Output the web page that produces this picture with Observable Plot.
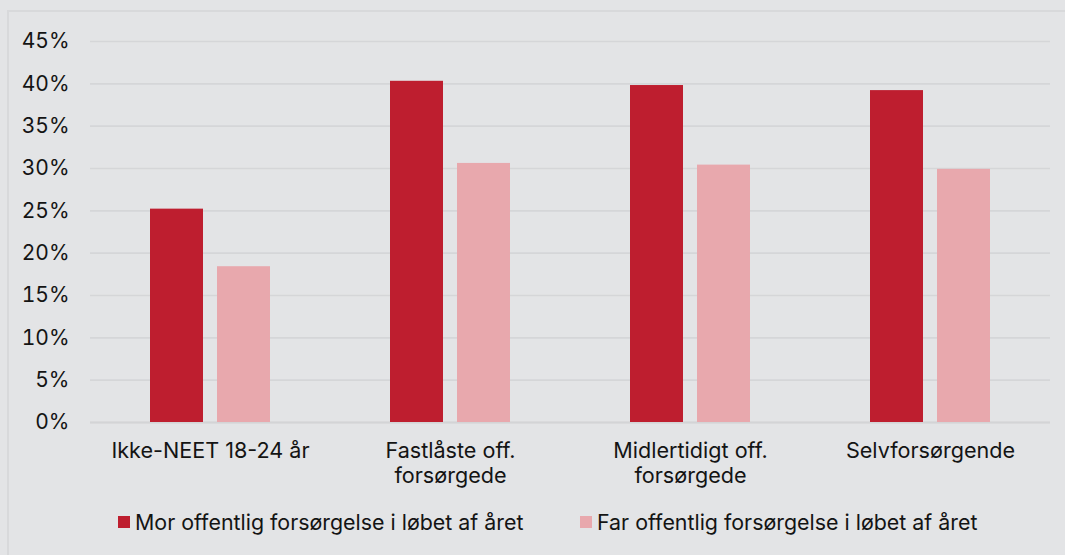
<!DOCTYPE html>
<html>
<head>
<meta charset="utf-8">
<script src="https://cdn.jsdelivr.net/npm/d3@7"></script>
<script src="https://cdn.jsdelivr.net/npm/@observablehq/plot@0.6"></script>
<style>
  html, body { margin: 0; padding: 0; }
  body { width: 1065px; height: 555px; background: #e3e4e6; position: relative; overflow: hidden; font-family: Inter, "Noto Sans", sans-serif; }
  #frame { position: absolute; left: 7px; top: 10px; width: 1200px; height: 700px; border-top: 2px solid #d8d9db; border-left: 2px solid #d8d9db; }
  #chart { position: absolute; left: 0; top: 0; }
  #legend { position: absolute; top: 509px; left: 0; width: 1065px; font-size: 21.4px; color: #141414; }
  .item { position: absolute; top: 0; display: flex; align-items: center; white-space: nowrap; }
  .sw { width: 12px; height: 12px; margin-right: 5px; display: inline-block; }
</style>
</head>
<body>
<div id="frame"></div>
<div id="chart"></div>
<div id="legend"></div>
<script>
const categories = ["Ikke-NEET 18-24 år", "Fastlåste off. forsørgede", "Midlertidigt off. forsørgede", "Selvforsørgende"];
const categoryLabels = ["Ikke-NEET 18-24 år", "Fastlåste off.\nforsørgede", "Midlertidigt off.\nforsørgede", "Selvforsørgende"];
const seriesNames = ["Mor offentlig forsørgelse i løbet af året", "Far offentlig forsørgelse i løbet af året"];
const morValues = [25.2, 40.3, 39.8, 39.2];
const farValues = [18.4, 30.6, 30.4, 29.9];
const seriesColors = ["#be1e2f", "#e8a8ad"];
const yTicks = [0, 5, 10, 15, 20, 25, 30, 35, 40, 45];

const data = [];
categories.forEach((c, i) => {
  data.push({cat: c, series: seriesNames[0], value: morValues[i]});
  data.push({cat: c, series: seriesNames[1], value: farValues[i]});
});
const labelOf = new Map(categories.map((c, i) => [c, categoryLabels[i]]));

const chart = Plot.plot({
  width: 1065,
  height: 495,
  marginTop: 41,
  marginBottom: 73,
  marginLeft: 89,
  marginRight: 14,
  style: {fontFamily: "Inter, 'Noto Sans', sans-serif", fontSize: "21px", color: "#141414", background: "transparent"},
  fx: {domain: categories, padding: 0, paddingOuter: 0, label: null},
  x: {domain: seriesNames, paddingInner: 0.206, paddingOuter: 0.871, axis: null},
  y: {domain: [0, 45], label: null},
  color: {domain: seriesNames, range: seriesColors},
  marks: [
    Plot.gridY(yTicks, {stroke: "#d5d6d8", strokeOpacity: 1, strokeWidth: 1.6}),
    Plot.ruleY([0], {stroke: "#d3d4d6", strokeWidth: 1.8}),
    Plot.barY(data, {fx: "cat", x: "series", y: "value", fill: "series"}),
    Plot.axisY(yTicks, {tickSize: 0, tickPadding: 21, tickFormat: d => d + "%", fontSize: 21, fill: "#141414"}),
    Plot.axisFx({anchor: "bottom", tickSize: 0, tickPadding: 17, tickFormat: d => labelOf.get(d), lineHeight: 1.19, fontSize: 21.6, fill: "#141414", label: null})
  ]
});
document.getElementById("chart").appendChild(chart);

const legend = document.getElementById("legend");
const legendX = [118, 580];
seriesNames.forEach((s, i) => {
  const item = document.createElement("div");
  item.className = "item";
  item.style.left = legendX[i] + "px";
  const sw = document.createElement("span");
  sw.className = "sw";
  sw.style.background = seriesColors[i];
  const t = document.createElement("span");
  t.textContent = s;
  item.appendChild(sw);
  item.appendChild(t);
  legend.appendChild(item);
});
</script>
</body>
</html>
